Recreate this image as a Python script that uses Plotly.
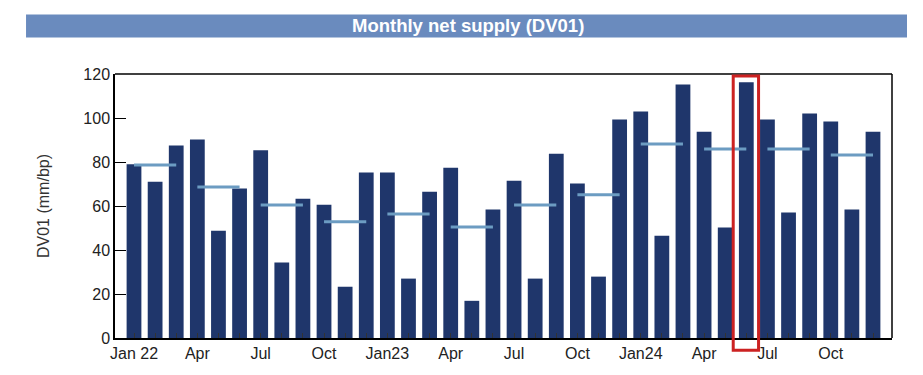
import plotly.graph_objects as go

months = ["Jan 22","Feb 22","Mar 22","Apr 22","May 22","Jun 22","Jul 22","Aug 22","Sep 22","Oct 22","Nov 22","Dec 22",
          "Jan 23","Feb 23","Mar 23","Apr 23","May 23","Jun 23","Jul 23","Aug 23","Sep 23","Oct 23","Nov 23","Dec 23",
          "Jan 24","Feb 24","Mar 24","Apr 24","May 24","Jun 24","Jul 24","Aug 24","Sep 24","Oct 24","Nov 24","Dec 24"]
monthly_dv01 = [79, 71, 87.5, 90.2, 48.8, 68, 85.3, 34.3, 63.3, 60.6, 23.3, 75.2,
                75.2, 27, 66.5, 77.4, 16.9, 58.4, 71.5, 27, 83.8, 70.2, 27.9, 99.3,
                102.9, 46.5, 115.2, 93.8, 50.2, 116.2, 99.3, 57, 102, 98.4, 58.4, 93.8]
quarterly_avg = [78.6, 68.6, 60.5, 52.8, 56.4, 50.5, 60.5, 65.1, 88.2, 85.9, 85.9, 83.2]
tick_labels = ["Jan 22","","","Apr","","","Jul","","","Oct","","",
               "Jan23","","","Apr","","","Jul","","","Oct","","",
               "Jan24","","","Apr","","","Jul","","","Oct","",""]
highlight_month = "Jun 24"

BAR = "#1F366B"
AVG = "#6C9CC2"
FONT = "Liberation Sans, Arial, sans-serif"

idx = list(range(len(months)))

fig = go.Figure()
fig.add_trace(go.Bar(x=idx, y=monthly_dv01, marker=dict(color=BAR, line=dict(width=0)),
                     width=0.7, hoverinfo="y"))

qx, qy = [], []
for q, v in enumerate(quarterly_avg):
    qx += [3 * q, 3 * q + 2, None]
    qy += [v, v, None]
fig.add_trace(go.Scatter(x=qx, y=qy, mode="lines", line=dict(color=AVG, width=3),
                         hoverinfo="skip"))

h = months.index(highlight_month)

fig.update_layout(
    width=923, height=375,
    margin=dict(l=115, r=31, t=74, b=37),
    paper_bgcolor="white", plot_bgcolor="white",
    showlegend=False,
    font=dict(family=FONT, size=16, color="#222222"),
    bargap=0.3,
    xaxis=dict(range=[-0.9, 35.9], tickmode="array", tickvals=idx, ticktext=tick_labels,
               ticks="inside", ticklen=5, tickwidth=1, tickcolor="#333333",
               showline=True, linecolor="black", linewidth=2, mirror=False,
               showgrid=False, zeroline=False, tickfont=dict(size=16, color="#222222")),
    yaxis=dict(range=[0, 120], tickvals=[0, 20, 40, 60, 80, 100, 120],
               ticks="inside", ticklen=11, tickwidth=1, tickcolor="black",
               showline=True, linecolor="black", linewidth=1.5,
               showgrid=False, zeroline=False, tickfont=dict(size=16, color="#222222"),
               title=dict(text="DV01 (mm/bp)", font=dict(size=16, color="#333333"), standoff=30)),
    shapes=[
        dict(type="line", xref="paper", yref="paper", x0=0, x1=1, y0=1, y1=1,
             line=dict(color="black", width=1.5)),
        dict(type="line", xref="paper", yref="paper", x0=1, x1=1, y0=0, y1=1,
             line=dict(color="black", width=1.5)),
        dict(type="rect", xref="paper", yref="paper", x0=-0.1145, x1=1.0193, y0=1.1385, y1=1.2258,
             fillcolor="#6A8BBE", line=dict(width=0), layer="below"),
        dict(type="rect", xref="paper", yref="paper",
             x0=(h - 0.62 + 0.9) / 36.8, x1=(h + 0.58 + 0.9) / 36.8, y0=-0.046, y1=0.992,
             line=dict(color="#CC2222", width=3), fillcolor="rgba(0,0,0,0)"),
    ],
    annotations=[
        dict(text="<b>Monthly net supply (DV01)</b>", xref="paper", yref="paper",
             x=(468 - 115) / 777, y=1.182, xanchor="center", yanchor="middle", showarrow=False,
             font=dict(family=FONT, size=18.5, color="white")),
    ],
)

fig.write_html("out.html", config={"displayModeBar": False},
               post_script="document.body.style.margin='0';")
